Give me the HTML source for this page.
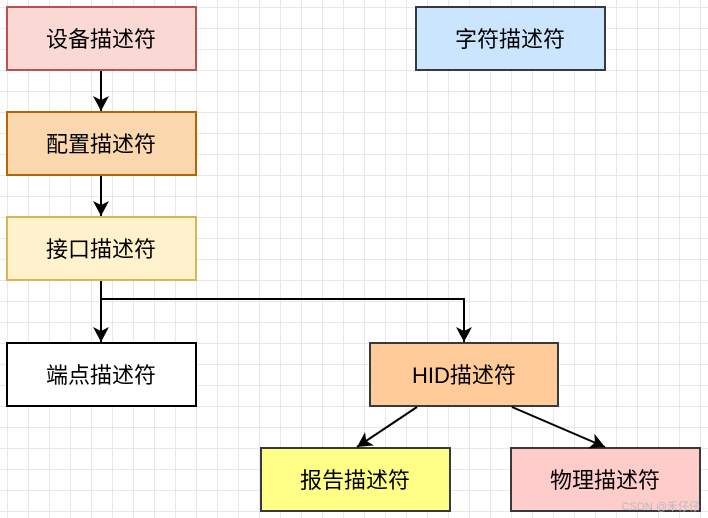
<!DOCTYPE html>
<html><head><meta charset="utf-8"><style>
body{margin:0;width:708px;height:518px;overflow:hidden;background:#fff;
background-image:linear-gradient(#e8e8e8 1px,transparent 1px),linear-gradient(90deg,#e8e8e8 1px,transparent 1px);
background-size:21px 21px;background-position:7px 7px;}
</style></head><body>
<svg width="708" height="518" style="position:absolute;left:0;top:0" font-family="Liberation Sans, Noto Sans CJK SC, sans-serif" font-size="22">
<defs><marker id="a" markerWidth="10" markerHeight="10" refX="9" refY="5" orient="auto" markerUnits="userSpaceOnUse"><path d="M0,0 L10,5 L0,10 L3,5 Z" fill="#000"/></marker>
<marker id="b" markerWidth="16" markerHeight="16" refX="15" refY="8" orient="auto" markerUnits="userSpaceOnUse"><path d="M0,0 L15,8 L0,16 L4,8 Z" fill="#000"/></marker></defs>
<g stroke-width="2">
<rect x="7" y="7" width="189" height="63" fill="#fad9d5" stroke="#b85450"/>
<rect x="7" y="112" width="189" height="63" fill="#fad7ac" stroke="#b46504"/>
<rect x="7" y="217" width="189" height="63" fill="#fff2cc" stroke="#d6b656"/>
<rect x="7" y="343" width="189" height="63" fill="#fff" stroke="#000"/>
<rect x="416" y="7" width="189" height="63" fill="#cce5ff" stroke="#36393d"/>
<rect x="370" y="343" width="188" height="63" fill="#ffcc99" stroke="#36393d"/>
<rect x="261" y="448" width="189" height="63" fill="#ffff88" stroke="#36393d"/>
<rect x="511" y="448" width="189" height="63" fill="#ffcccc" stroke="#36393d"/>
</g>
<g stroke="#000" stroke-width="2" fill="none">
<line x1="101" y1="71" x2="101" y2="111" marker-end="url(#b)"/>
<line x1="101" y1="176" x2="101" y2="216" marker-end="url(#b)"/>
<line x1="101" y1="281" x2="101" y2="342" marker-end="url(#b)"/>
<polyline points="101,299 464,299 464,342" marker-end="url(#b)"/>
<line x1="417" y1="407" x2="357" y2="447" marker-end="url(#b)"/>
<line x1="512" y1="407" x2="605" y2="447" marker-end="url(#b)"/>
</g>
<g text-anchor="middle" fill="#000">
<text x="101" y="47">设备描述符</text>
<text x="101" y="152">配置描述符</text>
<text x="101" y="257">接口描述符</text>
<text x="101" y="383">端点描述符</text>
<text x="510" y="47">字符描述符</text>
<text x="464" y="383">HID描述符</text>
<text x="355" y="488">报告描述符</text>
<text x="605" y="488">物理描述符</text>
</g>
<text x="700" y="510" text-anchor="end" font-size="11" fill="#bbb">CSDN @禾仔仔</text>
</svg>
</body></html>
